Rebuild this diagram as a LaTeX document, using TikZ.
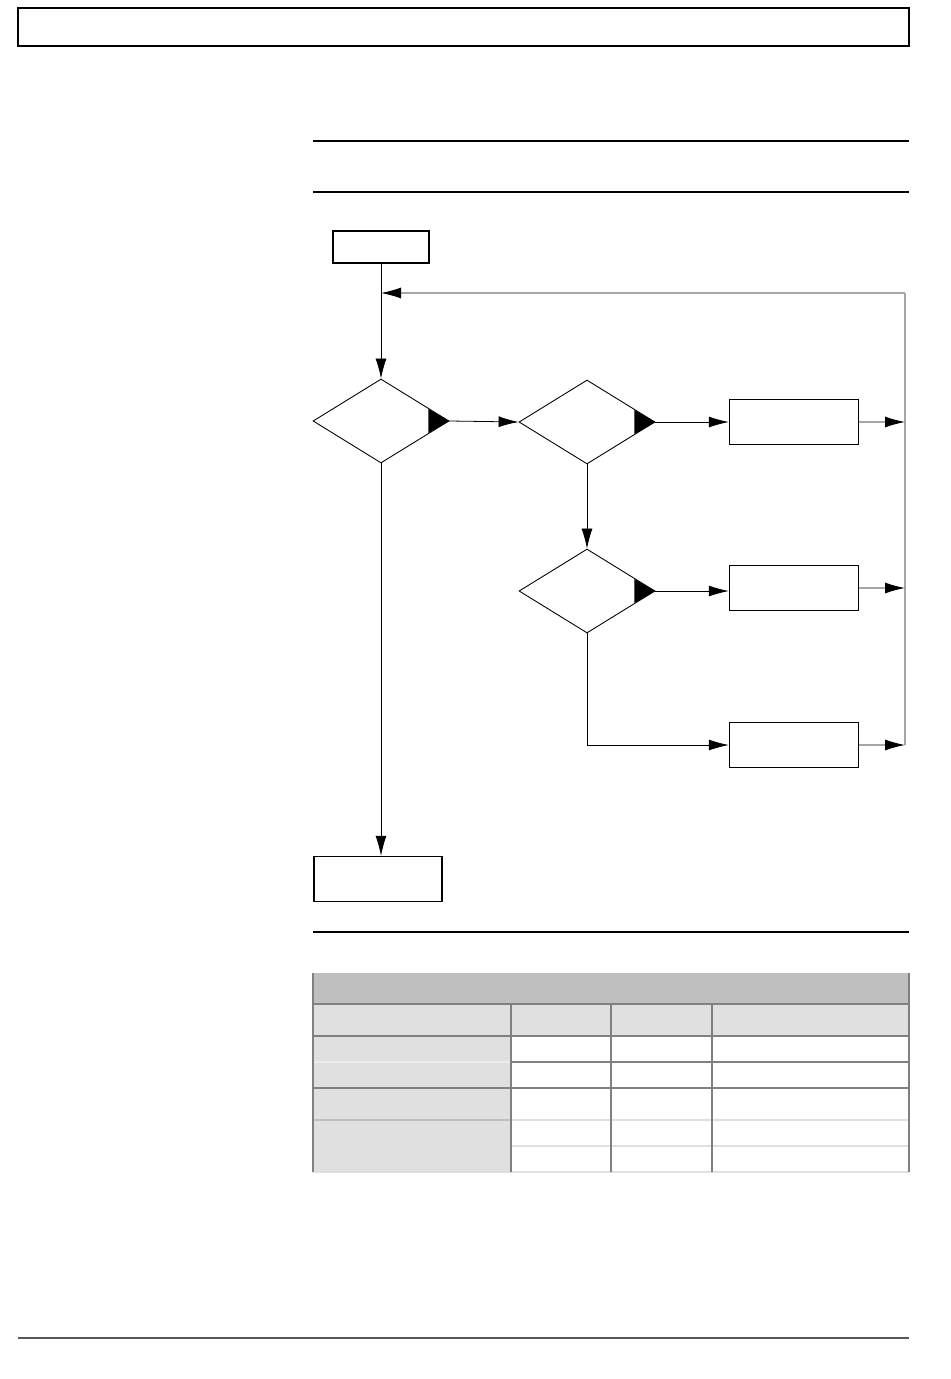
\documentclass[tikz,border=0pt]{standalone}
\usetikzlibrary{arrows.meta,shapes.geometric}
\tikzset{>={Latex[length=4mm,width=2.2mm,color=black]}}
\tikzset{
  stepbox/.style={draw,line width=0.8pt,inner sep=0pt,minimum width=2.58cm,minimum height=0.9cm},
  decision/.style={draw,diamond,inner sep=0pt,minimum width=2.72cm,minimum height=1.68cm,line width=0.5pt},
  hrule/.style={line width=1.3pt},
  flow/.style={->,line width=0.45pt},
  busline/.style={line width=0.6pt,gray!70}
}

\begin{document}
\begin{tikzpicture}[x=0.02cm,y=-0.02cm]
  \useasboundingbox (0,0) rectangle (950,1379);

  % page frame and rules
  \draw[line width=1.2pt] (18,8) rectangle (909,46);
  \draw[hrule] (313,141) -- (909,141);
  \draw[hrule] (313,192) -- (909,192);
  \draw[hrule] (313,932) -- (909,932);
  \draw[line width=1.5pt,black!65] (18,1338) -- (909,1338);

  % flow chart
  \node[stepbox,minimum width=1.92cm,minimum height=0.64cm] (start) at (381,247) {};
  \node[decision] (dec1) at (381,421) {};
  \node[decision] (dec2) at (587,422) {};
  \node[decision] (dec3) at (587,591) {};
  \node[stepbox] (actA) at (794,422) {};
  \node[stepbox] (actB) at (794,588) {};
  \node[stepbox] (actC) at (794,745) {};
  \node[stepbox,minimum width=2.56cm] (stop) at (378,879) {};
  \coordinate (bus) at (905,293);

  % markers in the decisions
  \foreach \d in {dec1,dec2,dec3}
    \fill (\d.east) -- ++(-21,-12) -- ++(0,24) -- cycle;

  \draw[flow] (start) -- (dec1);
  \draw[flow] (dec1.east) -- (dec2.west);
  \draw[flow] (dec2.east) -- (actA.west);
  \draw[flow] (dec2.south) -- (dec3.north);
  \draw[flow] (dec3.east) -- (dec3.east -| actB.west);
  \draw[flow] (dec3.south) |- (actC.west);
  \draw[flow] (dec1.south) -- (dec1.south |- stop.north);

  % return path
  \draw[busline] (bus) -- (bus |- actC.east);
  \draw[busline,->] (bus) -- (bus -| start.south);
  \foreach \a in {actA,actB,actC}
    \draw[busline,->] (\a.east) -- (\a.east -| bus);

  % table
  \fill[black!25] (313,973) rectangle (909,1004);
  \fill[black!12] (313,1004) rectangle (909,1036);
  \fill[black!12] (313,1036) rectangle (511,1172);
  \foreach \y in {1004,1036,1088}
    \draw[gray,line width=0.7pt] (313,\y) -- (909,\y);
  \draw[gray,line width=0.7pt] (511,1062) -- (909,1062);
  \draw[black!8,line width=0.7pt] (313,1062) -- (511,1062);
  \draw[black!25,line width=1.2pt] (313,1120) -- (511,1120);
  \draw[black!12,line width=1.2pt] (511,1120) -- (909,1120);
  \draw[black!12,line width=1.2pt] (511,1146) -- (909,1146);
  \draw[black!12,line width=0.7pt] (313,1172) -- (909,1172);
  \foreach \x in {313,909}
    \draw[gray,line width=0.7pt] (\x,973) -- (\x,1172);
  \foreach \x in {511,611,712}
    \draw[gray,line width=0.7pt] (\x,1004) -- (\x,1172);
\end{tikzpicture}
\end{document}
